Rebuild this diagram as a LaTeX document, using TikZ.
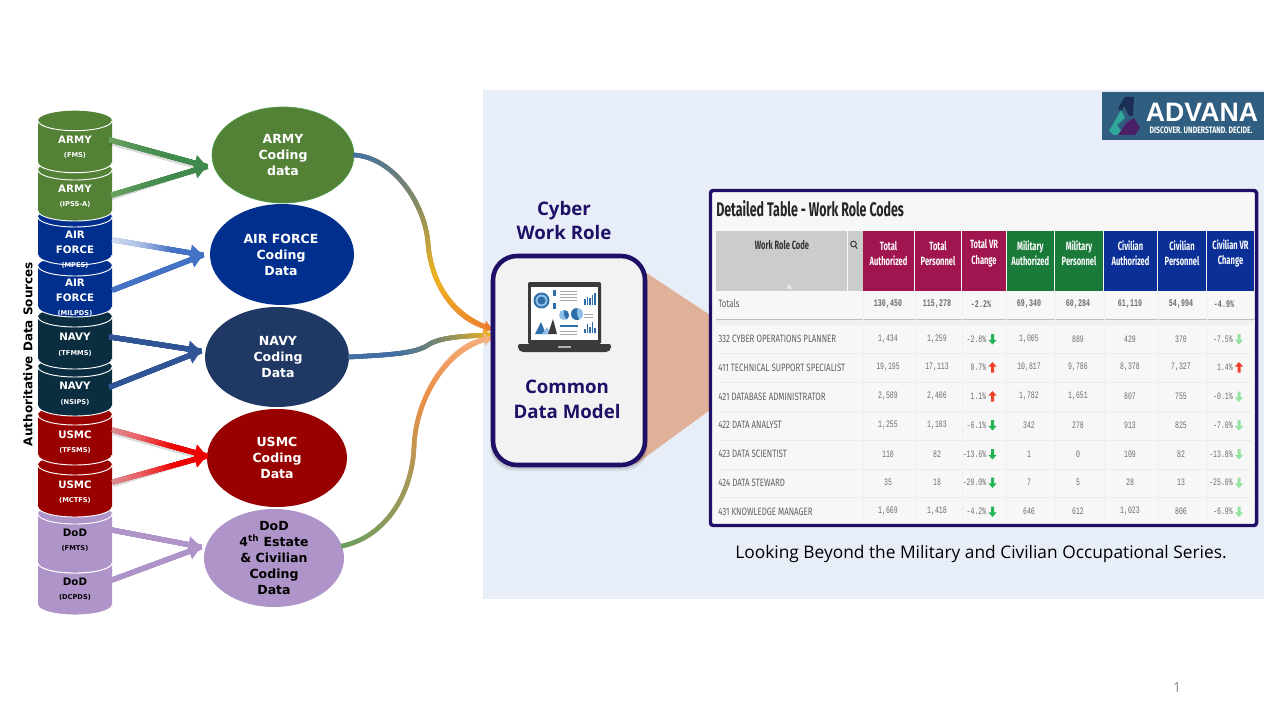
\documentclass[tikz,border=0pt]{standalone}
\usepackage{fontspec}
\usetikzlibrary{arrows.meta,calc,decorations.markings,shapes.geometric}
\setmainfont{DejaVu Sans}
\newfontfamily\vb{DejaVu Sans}
\newfontfamily\tb[FakeStretch=0.74]{Fira Sans}
\newfontfamily\tc[FakeStretch=0.63]{Fira Sans}
\newfontfamily\nb[FakeStretch=0.66]{Liberation Mono}
\newfontfamily\ui{Open Sans}
\definecolor{cgreen}{HTML}{538135}
\definecolor{cblue}{HTML}{002F8E}
\definecolor{cnavy}{HTML}{0B2D40}
\definecolor{cnavyb}{HTML}{1F3864}
\definecolor{cred}{HTML}{990000}
\definecolor{cpur}{HTML}{AE94C8}
\definecolor{panel}{HTML}{E8EEF8}
\definecolor{ink}{HTML}{1F0F66}
\definecolor{tan}{HTML}{E0B199}
\definecolor{tmar}{HTML}{A0154F}
\definecolor{tgrn}{HTML}{1A7A3A}
\definecolor{tblu}{HTML}{0A2F96}
\definecolor{lapd}{HTML}{3A3A3A}
\definecolor{chb}{HTML}{2F6EA8}
\definecolor{chl}{HTML}{8FBFE6}
\definecolor{chg}{HTML}{A8A8A8}
\definecolor{logobg}{HTML}{2F5E80}
\definecolor{logot}{HTML}{2FA79A}
\definecolor{logon}{HTML}{1B2F55}
\definecolor{logop}{HTML}{4B1F66}
\definecolor{upr}{HTML}{F0402A}
\definecolor{dng}{HTML}{22B455}
\definecolor{dnl}{HTML}{92E3A0}
\definecolor{cbA}{HTML}{3F6FA5}
\definecolor{cbB}{HTML}{7F8A6A}
\definecolor{cbC}{HTML}{EDB41E}
\definecolor{cbD}{HTML}{ED7D31}
\definecolor{cdA}{HTML}{6A9E5F}
\definecolor{cdB}{HTML}{A09A5A}
\definecolor{cdC}{HTML}{ED8F45}
\definecolor{cdD}{HTML}{F4B183}
\tikzset{
  gradline/.style n args={5}{line width=#5,draw=#4,postaction={decorate},
    decoration={markings,mark=between positions 0 and 1 step 0.005 with {
      \pgfmathsetmacro\gs{min(2.999,3*\pgfkeysvalueof{/pgf/decoration/mark info/sequence number}/201)}
      \pgfmathtruncatemacro\gi{int(\gs)}
      \pgfmathsetmacro\gp{100*(\gs-\gi)}
      \ifcase\gi\relax \colorlet{gc}{#2!\gp!#1}\or \colorlet{gc}{#3!\gp!#2}\else \colorlet{gc}{#4!\gp!#3}\fi
      \fill[gc] (-0.8pt,-#5/2) rectangle (0.8pt,#5/2);
    }}},
  arrowtip/.style={-{Triangle[length=9.5pt,width=12pt]}},
  curvetip/.style={-{Triangle[length=6pt,width=9pt]}},
  arrshadow/.style={draw=black,opacity=0.14,line width=3.2pt},
  cyltxt/.style={align=center,inner sep=0pt,font=\vb\bfseries},
  elltxt/.style={ellipse,inner sep=0pt,align=center,font=\vb\bfseries\fontsize{9.4}{12}\selectfont},
  hdrcell/.style={inner sep=0pt,text=white,align=center,font=\tc\bfseries\fontsize{9}{11.6}\selectfont},
  rowtxt/.style={inner sep=0pt,text=black!62,font=\tb\fontsize{8}{9}\selectfont},
  numtxt/.style={inner sep=0pt,text=black!58,font=\nb\fontsize{7.4}{9}\selectfont},
  ttltxt/.style={inner sep=0pt,text=ink,align=center,font=\ui\bfseries\fontsize{14}{18.7}\selectfont},
}
\newcommand\cylbody[3]{%
  \fill[#3] (38,#1) arc[start angle=180,end angle=360,x radius=37,y radius=10]
     -- (112,#2) arc[start angle=0,end angle=180,x radius=37,y radius=10] -- cycle;
  \draw[white,line width=0.7pt] (38,#1) arc[start angle=180,end angle=0,x radius=37,y radius=10];
  \draw[white,line width=0.7pt] (38,#2) arc[start angle=180,end angle=0,x radius=37,y radius=10];
}
\newcommand\cm[1]{{\fontsize{7.7}{9}\selectfont #1}}
\newcommand\cs[1]{{\fontsize{5}{7}\selectfont #1}}
\newcommand\vrarrow[4]{\fill[#4,shift={(#1,#2)},yscale=#3] (0,-5.5) -- (4.2,-0.8) -- (1.5,-0.8) -- (1.5,5) -- (-1.5,5) -- (-1.5,-0.8) -- (-4.2,-0.8) -- cycle;}
\newcommand\hdr[6]{\fill[#4] (#2,231) rectangle (#3,291);
  \node[hdrcell] (#1) at ({(#2+#3)/2},253.5) {#5\\#6};}
\begin{document}
\begin{tikzpicture}[x=0.75pt,y=-0.75pt]
\useasboundingbox (0,0) rectangle (1280,720);
\fill[white] (0,0) rectangle (1280,720);
% panel
\fill[panel] (483,90) rectangle (1264,599);
% beam
\fill[tan] (645,272) -- (710,315) -- (710,410) -- (636,464) -- cycle;
% logo
\fill[logobg] (1102,92) rectangle (1264,140);
\fill[logon] (1118,108) -- (1125,97) -- (1134,97) -- (1133,116) -- (1129,116) -- (1124,106) -- (1121,112) -- cycle;
\fill[logot] (1109,131) -- (1121,110) -- (1125,118) -- (1117,125) -- (1124,135) -- (1114,135) -- cycle;
\fill[logop] (1118,135) -- (1127,122) -- (1134,118) -- (1140,128) -- (1135,135) -- cycle;
\node[inner sep=0pt,text=white,font=\fontspec{Liberation Sans}\bfseries\fontsize{20}{20}\selectfont] (logoname) at (1202,112) {ADVANA};
\node[inner sep=0pt,text=white,font=\tb\bfseries\fontsize{7}{8}\selectfont] (logotag) at (1201,130.5) {DISCOVER. UNDERSTAND. DECIDE.};
% page number and caption
\node[inner sep=0pt,text=black!45,font=\ui\fontsize{10.5}{12}\selectfont] (pageno) at (1177,687) {1};
\node[inner sep=0pt,text=black,font=\ui\fontsize{13}{14}\selectfont] (caption) at (981,554) {Looking Beyond the Military and Civilian Occupational Series.};
% vertical label
\node[rotate=90,inner sep=0pt,text=black,font=\vb\bfseries\fontsize{9}{10}\selectfont] (authlabel) at (28,354) {Authoritative Data Sources};
% cylinders, lowest first
\cylbody{563}{605}{cpur}
\cylbody{514}{563}{cpur}
\cylbody{465}{507}{cred}
\cylbody{415}{455}{cred}
\cylbody{367}{406}{cnavy}
\cylbody{317}{359}{cnavy}
\cylbody{266}{307}{cblue}
\cylbody{217}{255}{cblue}
\cylbody{170}{211}{cgreen}
\cylbody{120.7}{162.7}{cgreen}
\node[cyltxt,text=white] (c1) at (75,147.5) {\cm{ARMY}\\[-1.5pt]\cs{(FMS)}};
\node[cyltxt,text=white] (c2) at (75,196.5) {\cm{ARMY}\\[-1.5pt]\cs{(IPSS-A)}};
\node[cyltxt,text=white] (c3) at (75,249.5) {\cm{AIR}\\[-0.5pt]\cm{FORCE}\\[-1.5pt]\cs{(MPES)}};
\node[cyltxt,text=white] (c4) at (75,298) {\cm{AIR}\\[-0.5pt]\cm{FORCE}\\[-1.5pt]\cs{(MILPDS)}};
\node[cyltxt,text=white] (c5) at (75,344.5) {\cm{NAVY}\\[-0.5pt]\cs{(TFMMS)}};
\node[cyltxt,text=white] (c6) at (75,393.5) {\cm{NAVY}\\[-0.5pt]\cs{(NSIPS)}};
\node[cyltxt,text=white] (c7) at (75,442) {\cm{USMC}\\[-1.5pt]\cs{(TFSMS)}};
\node[cyltxt,text=white] (c8) at (75,492) {\cm{USMC}\\[-1.5pt]\cs{(MCTFS)}};
\node[cyltxt,text=black] (c9) at (75,540.5) {\cm{DoD}\\[-1.5pt]\cs{(FMTS)}};
\node[cyltxt,text=black] (c10) at (75,589.5) {\cm{DoD}\\[-1.5pt]\cs{(DCPDS)}};
% ellipses
\node[elltxt,fill=cgreen,draw=green!45!black!70,line width=0.5pt,text=white,minimum width=106.5pt,minimum height=72pt] (armyc) at (283,155) {};
\node[inner sep=0pt,align=center,text=white,font=\vb\bfseries\fontsize{9.4}{12}\selectfont] (armyt) at (283,155) {ARMY\\Coding\\data};
\node[elltxt,fill=cblue,minimum width=108pt,minimum height=75.7pt] (airc) at (282,254.5) {};
\node[inner sep=0pt,align=center,text=white,font=\vb\bfseries\fontsize{9.4}{12}\selectfont] (airt) at (281,254.5) {AIR FORCE\\Coding\\Data};
\node[elltxt,fill=cnavyb,minimum width=108pt,minimum height=75pt] (navyc) at (277,357) {};
\node[inner sep=0pt,align=center,text=white,font=\vb\bfseries\fontsize{9.4}{12}\selectfont] (navyt) at (278,357) {NAVY\\Coding\\Data};
\node[elltxt,fill=cred,minimum width=105pt,minimum height=73.5pt] (usmcc) at (277,458) {};
\node[inner sep=0pt,align=center,text=white,font=\vb\bfseries\fontsize{9.4}{12}\selectfont] (usmct) at (277,458) {USMC\\Coding\\Data};
\node[elltxt,fill=cpur,minimum width=105pt,minimum height=73.5pt] (dodc) at (274,558) {};
\node[inner sep=0pt,align=center,text=black,font=\vb\bfseries\fontsize{9.4}{12}\selectfont] (dodt) at (274,558) {DoD\\4\textsuperscript{th} Estate\\\& Civilian\\Coding\\Data};
% named ends of the connectors
\coordinate (s1) at (110,140);   \coordinate (s2) at (112,195);
\coordinate (t1) at (207,166.5);
\coordinate (s3) at (113,240);   \coordinate (s4) at (113,290);
\coordinate (t2) at (203,255);
\coordinate (s5) at (110,337);   \coordinate (s6) at (110,387);
\coordinate (t3) at (201,351);
\coordinate (s7) at (113,430);   \coordinate (s8) at (113,482);
\coordinate (t4) at (207,456);
\coordinate (s9) at (112,530);   \coordinate (s10) at (112,580);
\coordinate (t5) at (201,547);
\coordinate (e1) at (492,329);   \coordinate (e2) at (492,335);   \coordinate (e3) at (492,338);
\coordinate (a1) at (428,243);   \coordinate (a2) at (428,345);   \coordinate (a3) at (414,447);
\coordinate (dodout) at (342,546);
% arrow shadows
\draw[arrshadow] ($(s1)+(0,3)$) -- ($(t1)+(-8,1)$);
\draw[arrshadow] ($(s2)+(0,3)$) -- ($(t1)+(-8,3)$);
\draw[arrshadow] ($(s7)+(0,3)$) -- ($(t4)+(-8,1)$);
\draw[arrshadow] ($(s8)+(0,3)$) -- ($(t4)+(-8,3)$);
% straight arrows
\definecolor{gA}{HTML}{6EA35F}\definecolor{gB}{HTML}{4F9255}\definecolor{gC}{HTML}{3F8A4C}
\draw[arrowtip,gradline={gA}{gB}{gC}{gC}{3.8pt}] (s1) -- (t1);
\draw[arrowtip,gradline={gA}{gB}{gC}{gC}{3.8pt}] (s2) -- (t1);
\definecolor{aA}{HTML}{D3DDF0}\definecolor{aB}{HTML}{A9BDE4}\definecolor{aC}{HTML}{4472C4}
\draw[arrowtip,gradline={aA}{aB}{aC}{aC}{3.8pt}] (s3) -- (t2);
\draw[arrowtip,gradline={aC}{aC}{aC}{aC}{3.8pt}] (s4) -- (t2);
\definecolor{nA}{HTML}{2F5597}
\draw[arrowtip,gradline={nA}{nA}{nA}{nA}{3.8pt}] (s5) -- (t3);
\draw[arrowtip,gradline={nA}{nA}{nA}{nA}{3.8pt}] (s6) -- (t3);
\definecolor{rA}{HTML}{DB8F94}\definecolor{rB}{HTML}{E85A5F}\definecolor{rC}{HTML}{EE0000}
\draw[arrowtip,gradline={rA}{rB}{rC}{rC}{3.8pt}] (s7) -- (t4);
\draw[arrowtip,gradline={rA}{rB}{rC}{rC}{3.8pt}] (s8) -- (t4);
\draw[arrowtip,gradline={cpur}{cpur}{cpur}{cpur}{3.8pt}] (s9) -- (t5);
\draw[arrowtip,gradline={cpur}{cpur}{cpur}{cpur}{3.8pt}] (s10) -- (t5);
% curved connectors
\draw[curvetip,gradline={cbA}{cbB}{cbC}{cbD}{3.4pt}] (armyc.east) .. controls (395,158) and (425,205) .. (a1) .. controls (431,285) and (455,318) .. (e1);
\draw[curvetip,gradline={cbA}{cbA}{cbB}{cbC}{3.4pt}] (navyc.east) .. controls (385,355) and (415,354) .. (a2) .. controls (440,337) and (465,336) .. (e2);
\draw[curvetip,gradline={cdA}{cdB}{cdC}{cdD}{3.4pt}] (dodout) .. controls (385,537) and (412,495) .. (a3) .. controls (416,395) and (450,345) .. (e3);
% cyber heading
\node[ttltxt] (cyber) at (564,220.5) {Cyber\\Work Role};
% data-model box
\fill[black,opacity=0.07,rounded corners=18pt] (490,260) rectangle (648,471);
\fill[black,opacity=0.10,rounded corners=18pt] (491,259) rectangle (647,469);
\draw[ink,line width=3.4pt,fill=black!5,rounded corners=18pt] (493,256) rectangle (645,465);
\node[ttltxt] (cdm) at (567,399.5) {Common\\Data Model};
% laptop
\fill[lapd,rounded corners=1] (528,282) rectangle (601,344);
\fill[white] (531,286.5) rectangle (598,340);
\fill[lapd,rounded corners=1.5] (518,344) -- (611,344) -- (611,349) -- (608,352) -- (521,352) -- (518,349) -- cycle;
\fill[black!30] (558,346) rectangle (571,347.5);
\fill[chb] (541.5,300.5) circle[radius=8];
\fill[chl] (541.5,300.5) circle[radius=6];
\fill[chb] (541.5,300.5) circle[radius=4];
\fill[chb] (553,290) rectangle (556,296);
\fill[chb] (553,303) rectangle (556,309);
\foreach \yy in {291,294,297,300}{\fill[chg] (560,\yy) rectangle (577,\yy+1);}
\foreach \xx/\hh in {584/6,586.5/8,589/7,591.5/10,594/12}{\fill[chb] (\xx,305) rectangle ++(1.6,-\hh);}
\fill[chl] (564,315) circle[radius=5];
\fill[chb] (564,315) -- (564,310) arc[start angle=270,end angle=420,radius=5] -- cycle;
\fill[chl] (577,314) circle[radius=6];
\fill[chb] (577,314) -- (577,308) arc[start angle=270,end angle=70,radius=6] -- cycle;
\foreach \yy in {314,317}{\fill[chg] (584,\yy) rectangle (593,\yy+0.8);}
\fill[chb] (535,334) -- (541,322) -- (546,334) -- cycle;
\fill[chl] (542,334) -- (547,327) -- (551,334) -- cycle;
\fill[lapd] (548,334) -- (553,319) -- (557,334) -- cycle;
\fill[chb] (560,325) rectangle (578,327);
\foreach \yy in {331,334}{\fill[chg] (560,\yy) rectangle (577,\yy+1);}
\foreach \xx/\hh in {584/4,586.5/9,589/6,591.5/11,594/5}{\fill[chb] (\xx,333) rectangle ++(1.6,-\hh);}
% table
\draw[ink,line width=2.6pt,fill=black!3,rounded corners=2] (710.5,190.5) rectangle (1256.5,525.5);
\node[anchor=west,inner sep=0pt,text=black!85,font=\tc\bfseries\fontsize{14.8}{16}\selectfont] (ttl) at (716,209) {Detailed Table - Work Role Codes};
\fill[black!20] (716,231) rectangle (847,291);
\fill[black!20] (848,231) rectangle (862.5,291);
\fill[white,opacity=0.6] (789,284) -- (792,288.5) -- (786,288.5) -- cycle;
\node[hdrcell,text=black!80] (wrc) at (782,245.5) {Work Role Code};
\draw[black!75,line width=0.8pt] (853.5,244) circle[radius=2.8] (855.4,246.2) -- (857.2,248.6);
\hdr{h1}{863}{914}{tmar}{Total}{Authorized}
\hdr{h2}{915}{961}{tmar}{Total}{Personnel}
\hdr{h3}{962}{1006}{tmar}{Total VR}{Change}
\hdr{h4}{1006.5}{1054}{tgrn}{Military}{Authorized}
\hdr{h5}{1055}{1103}{tgrn}{Military}{Personnel}
\hdr{h6}{1104}{1157}{tblu}{Civilian}{Authorized}
\hdr{h7}{1158}{1206}{tblu}{Civilian}{Personnel}
\hdr{h8}{1207}{1254}{tblu}{Civilian VR}{Change}
\fill[black!25] (716,318.5) rectangle (1255,320);
\fill[black!6] (716,320) rectangle (1255,325);
\foreach \yy in {353,382,411,440,469,497}{\draw[black!7,line width=0.4pt] (716,\yy) -- (1255,\yy);}
\foreach \xx in {863,915,962,1006,1055,1104,1158,1207}{\draw[black!6,line width=0.4pt] (\xx,291) -- (\xx,524);}
% totals
\node[rowtxt,anchor=west] (tot0) at (718,304) {Totals};
\foreach \xx/\tt/\nn in {888/{130,450}/a,937/{115,278}/b,981/{-2.2\%}/c,1029/{69,340}/d,1078/{60,284}/e,1130/{61,110}/f,1181/{54,994}/g,1224/{-4.9\%}/h}
  {\node[numtxt,font=\nb\bfseries\fontsize{7.6}{9}\selectfont] (tot\nn) at (\xx,304) {\tt};}
% rows
\foreach \yy/\nm/\va/\vb/\vc/\fc/\vd/\ve/\vf/\vg/\vh/\fh in {
 {339/332 CYBER OPERATIONS PLANNER/1,434/1,259/-2.8\%/-1/1,005/889/429/370/-7.5\%/-1},
 {367.5/411 TECHNICAL SUPPORT SPECIALIST/19,195/17,113/0.7\%/1/10,817/9,786/8,378/7,327/1.4\%/1},
 {396.5/421 DATABASE ADMINISTRATOR/2,589/2,406/1.1\%/1/1,782/1,651/807/755/-0.1\%/-1},
 {425/422 DATA ANALYST/1,255/1,103/-6.1\%/-1/342/278/913/825/-7.0\%/-1},
 {454/423 DATA SCIENTIST/110/82/-13.6\%/-1/1/0/109/82/-13.8\%/-1},
 {482.5/424 DATA STEWARD/35/18/-20.0\%/-1/7/5/28/13/-25.0\%/-1},
 {511.5/431 KNOWLEDGE MANAGER/1,669/1,418/-4.2\%/-1/646/612/1,023/806/-6.9\%/-1}}{
  \node[rowtxt,anchor=west] (r\yy n) at (718,\yy) {\nm};
  \node[numtxt] (r\yy a) at (888,\yy) {\va};
  \node[numtxt] (r\yy b) at (937,\yy) {\vb};
  \node[numtxt,anchor=east] (r\yy c) at (986.5,\yy) {\vc};
  \node[numtxt] (r\yy d) at (1029,\yy) {\vd};
  \node[numtxt] (r\yy e) at (1078,\yy) {\ve};
  \node[numtxt] (r\yy f) at (1130,\yy) {\vf};
  \node[numtxt] (r\yy g) at (1181,\yy) {\vg};
  \node[numtxt,anchor=east] (r\yy h) at (1233,\yy) {\vh};
  \ifnum\fc>0 \vrarrow{992.5}{\yy}{1}{upr}\else \vrarrow{992.5}{\yy}{-1}{dng}\fi
  \ifnum\fh>0 \vrarrow{1239}{\yy}{1}{upr}\else \vrarrow{1239}{\yy}{-1}{dnl}\fi
}
\end{tikzpicture}
\end{document}
